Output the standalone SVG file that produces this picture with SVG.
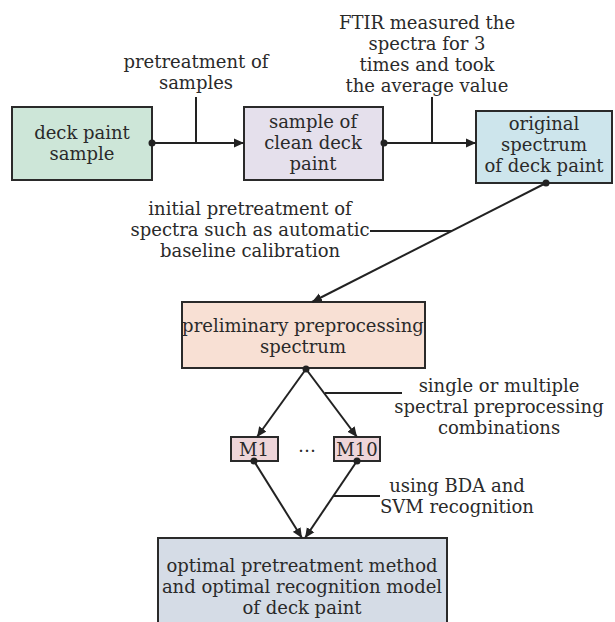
<svg xmlns="http://www.w3.org/2000/svg" width="615" height="622" viewBox="0 0 615 622">
<defs>
<marker id="arr" viewBox="0 0 10 10" refX="10" refY="5" markerWidth="10" markerHeight="10" markerUnits="userSpaceOnUse" orient="auto">
<path d="M0,0.5 L10,5 L0,9.5 Z" fill="#222"/>
</marker>
<style>
text{font-family:"DejaVu Serif","Liberation Serif",serif;font-size:18px;fill:#2a2a2a;text-anchor:middle}
.box{stroke:#2a2a2a;stroke-width:2}
.ln{stroke:#222;stroke-width:2;fill:none}
.dot{fill:#222}
</style>
</defs>
<rect width="615" height="622" fill="#fff"/>
<g id="n1"><rect class="box" x="12" y="107" width="140" height="73" fill="#cde6d8"/><text x="82" y="139">deck paint</text><text x="82" y="160">sample</text></g>
<g id="n2"><rect class="box" x="244" y="107" width="139" height="73" fill="#e5e0ec"/><text x="313" y="128">sample of</text><text x="313" y="149">clean deck</text><text x="313" y="170">paint</text></g>
<g id="n3"><rect class="box" x="476" y="111" width="136" height="72" fill="#cde5ec"/><text x="544" y="130">original</text><text x="544" y="151">spectrum</text><text x="544" y="172">of deck paint</text></g>
<g id="n4"><rect class="box" x="182" y="302" width="243" height="66" fill="#f8e0d4"/><text x="303" y="332">preliminary preprocessing</text><text x="303" y="353">spectrum</text></g>
<g id="m1"><rect class="box" x="231" y="437" width="47" height="24" fill="#eed5d9"/><text x="254" y="456">M1</text></g>
<g id="m10"><rect class="box" x="334" y="437" width="46" height="24" fill="#eed5d9"/><text x="357" y="456">M10</text></g>
<g id="n5"><rect class="box" x="158" y="538" width="289" height="90" fill="#d5dce6"/><text x="302" y="572">optimal pretreatment method</text><text x="302" y="593">and optimal recognition model</text><text x="302" y="614">of deck paint</text></g>
<g id="labels">
<text x="196" y="68">pretreatment of</text><text x="196" y="89">samples</text>
<text x="427" y="29">FTIR measured the</text><text x="427" y="50">spectra for 3</text><text x="427" y="71">times and took</text><text x="427" y="92">the average value</text>
<text x="250" y="215">initial pretreatment of</text><text x="250" y="236">spectra such as automatic</text><text x="250" y="257">baseline calibration</text>
<text x="499" y="392">single or multiple</text><text x="499" y="413">spectral preprocessing</text><text x="499" y="434">combinations</text>
<text x="457" y="492">using BDA and</text><text x="457" y="513">SVM recognition</text>
<text x="307" y="452">…</text>
</g>
<g id="connectors">
<line class="ln" x1="152" y1="143" x2="244" y2="143" marker-end="url(#arr)"/>
<line class="ln" x1="196" y1="97" x2="196" y2="143"/>
<circle class="dot" cx="152" cy="143" r="3.5"/>
<line class="ln" x1="384" y1="143" x2="476" y2="143" marker-end="url(#arr)"/>
<line class="ln" x1="432" y1="97" x2="432" y2="143"/>
<circle class="dot" cx="384" cy="143" r="3.5"/>
<line class="ln" x1="546" y1="183" x2="312" y2="302" marker-end="url(#arr)"/>
<line class="ln" x1="370" y1="231" x2="452" y2="231"/>
<circle class="dot" cx="546" cy="183" r="3.5"/>
<line class="ln" x1="306" y1="369" x2="257" y2="437" marker-end="url(#arr)"/>
<line class="ln" x1="306" y1="369" x2="357" y2="437" marker-end="url(#arr)"/>
<line class="ln" x1="325" y1="393" x2="402" y2="393"/>
<circle class="dot" cx="306" cy="369" r="3.5"/>
<line class="ln" x1="254" y1="461" x2="302" y2="538" marker-end="url(#arr)"/>
<line class="ln" x1="357" y1="461" x2="305" y2="538" marker-end="url(#arr)"/>
<line class="ln" x1="333" y1="496" x2="380" y2="496"/>
<circle class="dot" cx="254" cy="461" r="3.5"/>
<circle class="dot" cx="357" cy="461" r="3.5"/>
</g>
</svg>
